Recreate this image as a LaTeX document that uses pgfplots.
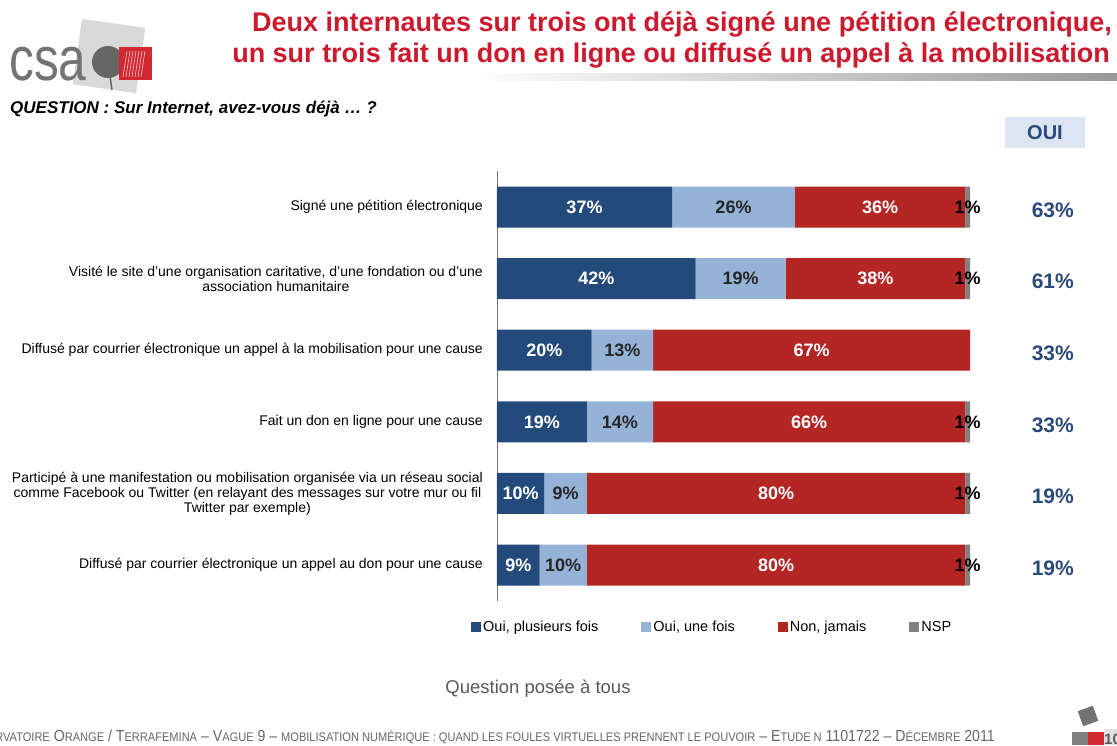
\documentclass[border=0pt]{standalone}
\usepackage{pgfplots}
\usepackage{pgfplotstable}
\pgfplotsset{compat=1.18}
\usepackage{fontspec}
\setmainfont{Liberation Sans}
\newfontfamily\narrowfont[FakeStretch=0.885]{Liberation Sans}
\newfontfamily\logofont[FakeStretch=0.8]{Liberation Sans}

\definecolor{oplus}{RGB}{36,74,124}
\definecolor{oune}{RGB}{149,179,215}
\definecolor{njam}{RGB}{179,38,36}
\definecolor{nsp}{RGB}{128,128,128}
\definecolor{titred}{RGB}{204,25,45}
\definecolor{ouitxt}{RGB}{44,74,120}
\definecolor{ouibox}{RGB}{220,230,242}
\definecolor{logored}{RGB}{210,40,50}

\newcommand\fs[2]{\fontsize{#1}{#2}\selectfont}
% fake small caps for the footer
\newcommand\smc[2]{#1{\fs{12.5}{14}#2}}

% row: 0 = top; a = Oui plusieurs fois, b = Oui une fois, c = Non jamais, d = NSP, oui = total oui
\pgfplotstableread{
row a  b  c  d oui
0   37 26 36 1 63
1   42 19 38 1 61
2   20 13 67 0 33
3   19 14 66 1 33
4   10  9 80 1 19
5    9 10 80 1 19
}\data

\pgfplotsset{
  frame/.style={
    at={(497pt,-171.2pt)}, anchor=north west,
    width=473pt, height=429.6pt, scale only axis,
    xmin=0, xmax=100, ymin=-0.5, ymax=5.5, y dir=reverse, clip=false,
    /pgf/number format/assume math mode=true},
  lbl/.style={only marks, mark=none, point meta=explicit,
    nodes near coords={\pgfmathprintnumber{\pgfplotspointmeta}\%},
    every node near coord/.append style={anchor=center, font=\fs{18}{20}\bfseries, text=#1}},
}

\begin{document}
\begin{tikzpicture}
\path[use as bounding box] (0pt,0pt) rectangle (1117pt,-745pt);

\begin{scope}[x=1pt,y=-1pt]
  % header
  \shade[left color=white, right color=black!40] (470,73) rectangle (1117,80);
  \node[anchor=base east, text=titred, font=\fs{27}{30}\bfseries, inner sep=0pt]
    at (1112,31) {Deux internautes sur trois ont déjà signé une pétition électronique,};
  \node[anchor=base east, text=titred, font=\fs{27}{30}\bfseries, inner sep=0pt]
    at (1110,62) {un sur trois fait un don en ligne ou diffusé un appel à la mobilisation};
  % logo
  \fill[black!15, rotate around={-8:(109,56)}] (77,23) rectangle (141,89);
  \fill[black!60] (108,62) circle (16);
  \draw[black!60, line width=1.5pt] (110,76) -- (112,90);
  \fill[logored] (119,47) rectangle (152,80);
  \foreach \k in {0,...,6}
    \draw[white!75!logored, line width=0.6pt] (123+3*\k,77) -- (127+3*\k,51);
  \node[anchor=base west, text=black!55, font=\logofont\fs{62}{62}, inner sep=0pt]
    at (9,80) {csa};
  \node[anchor=base west, font=\fs{17}{20}\bfseries\itshape, inner sep=0pt]
    at (10,113) {QUESTION : Sur Internet, avez-vous déjà … ?};
  % OUI header box
  \fill[ouibox] (1005,117) rectangle (1085,148);
  \node[text=ouitxt, font=\fs{20}{22}\bfseries] at (1045,132.5) {OUI};
  % bottom
  \node[text=black!65, font=\fs{18.5}{22}] at (538,689) {Question posée à tous};
  \node[anchor=base east, text=black!60, font=\narrowfont\fs{16}{18}, inner sep=0pt] at (995,741)
    {\smc{O}{BSERVATOIRE} \smc{O}{RANGE} / \smc{T}{ERRAFEMINA} – \smc{V}{AGUE} 9 – \smc{}{MOBILISATION NUMÉRIQUE : QUAND LES FOULES VIRTUELLES PRENNENT LE POUVOIR} – \smc{E}{TUDE N} 1101722 – \smc{D}{ÉCEMBRE} 2011};
  \fill[black!55, rotate around={20:(1088,716)}] (1080,708) rectangle (1096,724);
  \fill[black!50] (1072,732) rectangle (1088,745);
  \fill[logored] (1088,732) rectangle (1104,745);
  \fill[black!12] (1104,729) rectangle (1117,745);
  \node[anchor=base west, text=black!65, font=\fs{15}{17}\bfseries, inner sep=0pt] at (1104,744) {10};
\end{scope}

\begin{axis}[
  frame,
  xbar stacked, bar width=41pt,
  axis x line=none,
  axis y line*=left,
  y axis line style={black!55, line width=0.8pt},
  ytick={0,...,5},
  major tick length=0pt,
  yticklabels={
    {Signé une pétition électronique},
    {Visité le site d'une organisation caritative, d'une fondation ou d'une\\association humanitaire},
    {Diffusé par courrier électronique un appel à la mobilisation pour une cause},
    {Fait un don en ligne pour une cause},
    {Participé à une manifestation ou mobilisation organisée via un réseau social\\comme Facebook ou Twitter (en relayant des messages sur votre mur ou fil\\Twitter par exemple)},
    {Diffusé par courrier électronique un appel au don pour une cause}},
  yticklabel style={font=\fs{14}{15}, align=center, inner sep=0pt, xshift=-14pt},
  legend columns=4,
  legend style={draw=none, fill=none, font=\fs{14.5}{17},
    at={(axis description cs:0.455,-0.061)}, anchor=center,
    /tikz/every even column/.append style={column sep=41pt}},
  legend image code/.code={\fill[#1] (0pt,-5pt) rectangle (10pt,5pt);},
]
\addplot[fill=oplus, draw=none] table[x=a, y=row] {\data};
\addlegendentry{Oui, plusieurs fois}
\addplot[fill=oune, draw=none] table[x=b, y=row] {\data};
\addlegendentry{Oui, une fois}
\addplot[fill=njam, draw=none] table[x=c, y=row] {\data};
\addlegendentry{Non, jamais}
\addplot[fill=nsp, draw=none] table[x=d, y=row] {\data};
\addlegendentry{NSP}
\end{axis}

% value labels, centred in each segment, and the OUI totals
\begin{axis}[frame, hide axis]
\addplot[lbl=white] table[x expr=\thisrow{a}/2, y=row, meta=a] {\data};
\addplot[lbl=black!85] table[x expr=\thisrow{a}+\thisrow{b}/2, y=row, meta=b] {\data};
\addplot[lbl=white] table[x expr=\thisrow{a}+\thisrow{b}+\thisrow{c}/2, y=row, meta=c] {\data};
\addplot[lbl=black, skip coords between index={2}{3}]
  table[x expr=\thisrow{a}+\thisrow{b}+\thisrow{c}+\thisrow{d}/2, y=row, meta=d] {\data};
\addplot[only marks, mark=none, point meta=explicit,
  nodes near coords={\pgfmathprintnumber{\pgfplotspointmeta}\%},
  every node near coord/.append style={anchor=center, yshift=-3pt,
    text=ouitxt, font=\fs{21}{23}\bfseries}]
  table[x expr=117.5, y=row, meta=oui] {\data};
\end{axis}
\end{tikzpicture}
\end{document}
